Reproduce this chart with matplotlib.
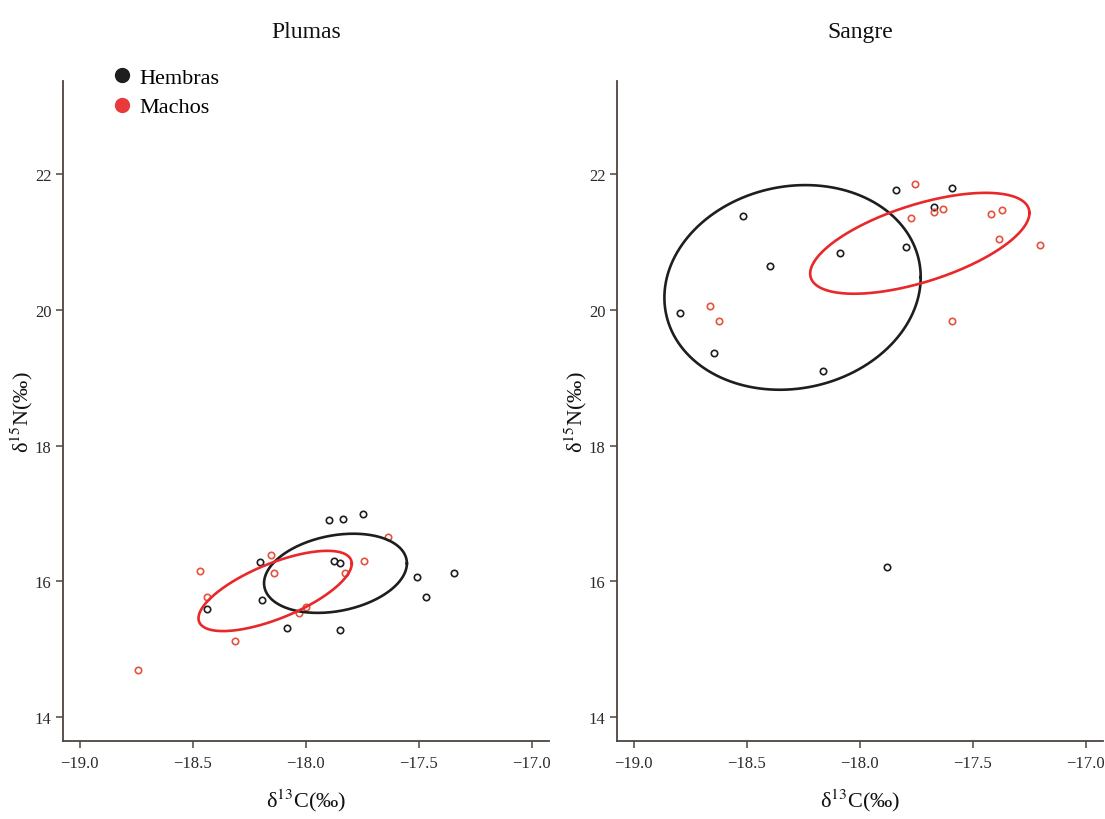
import numpy as np
import matplotlib
matplotlib.use("Agg")
import matplotlib.pyplot as plt
from matplotlib.lines import Line2D

plt.rcParams['font.family'] = ['Liberation Serif', 'DejaVu Serif']
plt.rcParams['mathtext.fontset'] = 'stix'

# ---------------- data ----------------
# Plumas (feathers)
plumas_h_x = [-17.895, -17.833, -17.744, -18.200, -17.874, -17.847, -17.507,
              -17.342, -17.467, -18.194, -18.436, -18.083, -17.849]
plumas_h_y = [16.91, 16.92, 16.99, 16.29, 16.30, 16.27, 16.06,
              16.12, 15.77, 15.73, 15.60, 15.31, 15.28]
plumas_m_x = [-17.636, -18.154, -17.741, -18.467, -18.141, -17.828,
              -18.436, -17.999, -18.029, -18.313, -18.741]
plumas_m_y = [16.66, 16.39, 16.30, 16.15, 16.12, 16.12,
              15.77, 15.62, 15.53, 15.12, 14.70]

# Sangre (blood)
sangre_h_x = [-17.841, -17.593, -17.669, -18.517, -17.796, -18.089,
              -18.398, -18.794, -18.643, -18.163, -17.878]
sangre_h_y = [21.77, 21.79, 21.51, 21.38, 20.93, 20.83,
              20.64, 19.96, 19.37, 19.10, 16.22]
sangre_m_x = [-17.756, -17.669, -17.632, -17.775, -17.418, -17.372,
              -17.385, -17.204, -18.662, -18.624, -17.592]
sangre_m_y = [21.85, 21.44, 21.48, 21.35, 21.41, 21.47,
              21.05, 20.95, 20.05, 19.83, 19.83]

# standard ellipses: centre x, centre y, half-extent x, half-extent y, correlation
ell_plumas_h = [-17.868, 16.12, 0.316, 0.583, 0.25]
ell_plumas_m = [-18.135, 15.86, 0.339, 0.591, 0.68]
ell_sangre_h = [-18.297, 20.33, 0.567, 1.507, 0.10]
ell_sangre_m = [-17.734, 20.98, 0.485, 0.743, 0.60]

titles = ["Plumas", "Sangre"]
x_ticks = [-19.0, -18.5, -18.0, -17.5, -17.0]
x_tick_labels = ["\u221219.0", "\u221218.5", "\u221218.0", "\u221217.5", "\u221217.0"]
y_ticks = [14, 16, 18, 20, 22]
legend_labels = ["Hembras", "Machos"]

BLACK = "#1e1e1e"
RED_PT = "#e5533f"
RED_LINE = "#e8282a"
RED_LEG = "#e83a3a"
SPINE = "#4e4440"


def ellipse_xy(p, n=300):
    cx, cy, sx, sy, rho = p
    t = np.linspace(0, 2 * np.pi, n)
    x = cx + sx * np.cos(t)
    y = cy + sy * (rho * np.cos(t) + np.sqrt(1 - rho ** 2) * np.sin(t))
    return x, y


fig = plt.figure(figsize=(11.05, 8.2), dpi=100)
ax1 = fig.add_axes([0.0567, 0.0951, 0.4404, 0.8049])
ax2 = fig.add_axes([0.5581, 0.0951, 0.4404, 0.8049])

panels = [
    (ax1, plumas_h_x, plumas_h_y, plumas_m_x, plumas_m_y, ell_plumas_h, ell_plumas_m),
    (ax2, sangre_h_x, sangre_h_y, sangre_m_x, sangre_m_y, ell_sangre_h, ell_sangre_m),
]

for i, (ax, hx, hy, mx, my, eh, em) in enumerate(panels):
    ax.plot(hx, hy, ls='none', marker='o', ms=4.6, mfc='none', mec=BLACK, mew=1.2)
    ax.plot(mx, my, ls='none', marker='o', ms=4.6, mfc='none', mec=RED_PT, mew=1.2)
    ex, ey = ellipse_xy(eh)
    ax.plot(ex, ey, color=BLACK, lw=1.9)
    ex, ey = ellipse_xy(em)
    ax.plot(ex, ey, color=RED_LINE, lw=1.9)

    ax.set_xlim(-19.075, -16.922)
    ax.set_ylim(13.65, 23.37)
    ax.set_xticks(x_ticks)
    ax.set_xticklabels(x_tick_labels)
    ax.set_yticks(y_ticks)
    for s in ['top', 'right']:
        ax.spines[s].set_visible(False)
    for s in ['left', 'bottom']:
        ax.spines[s].set_color(SPINE)
        ax.spines[s].set_linewidth(1.3)
    ax.tick_params(direction='out', length=5, width=1.1, color=SPINE,
                   labelsize=12, labelcolor='#2a2a2a')
    ax.tick_params(axis='y', pad=3)
    ax.tick_params(axis='x', pad=5)
    ax.set_title(titles[i], fontsize=17, pad=32, color='#111111')
    ax.set_xlabel("\u03b4$^{13}$C(\u2030)", fontsize=16, labelpad=11, color='#111111')
    ax.set_ylabel("\u03b4$^{15}$N(\u2030)", fontsize=16, color='#111111')
    ax.yaxis.set_label_coords(-0.057, 0.5)

handles = [Line2D([], [], ls='none', marker='o', ms=10, mfc=BLACK, mec=BLACK),
           Line2D([], [], ls='none', marker='o', ms=10, mfc=RED_LEG, mec=RED_LEG)]
ax1.legend(handles, legend_labels, loc='upper left', bbox_to_anchor=(0.08, 1.034),
           frameon=False, fontsize=16, handletextpad=0.3, labelspacing=0.4,
           borderaxespad=0, handlelength=1.0)

fig.savefig("out.png", dpi=100, facecolor='white')
